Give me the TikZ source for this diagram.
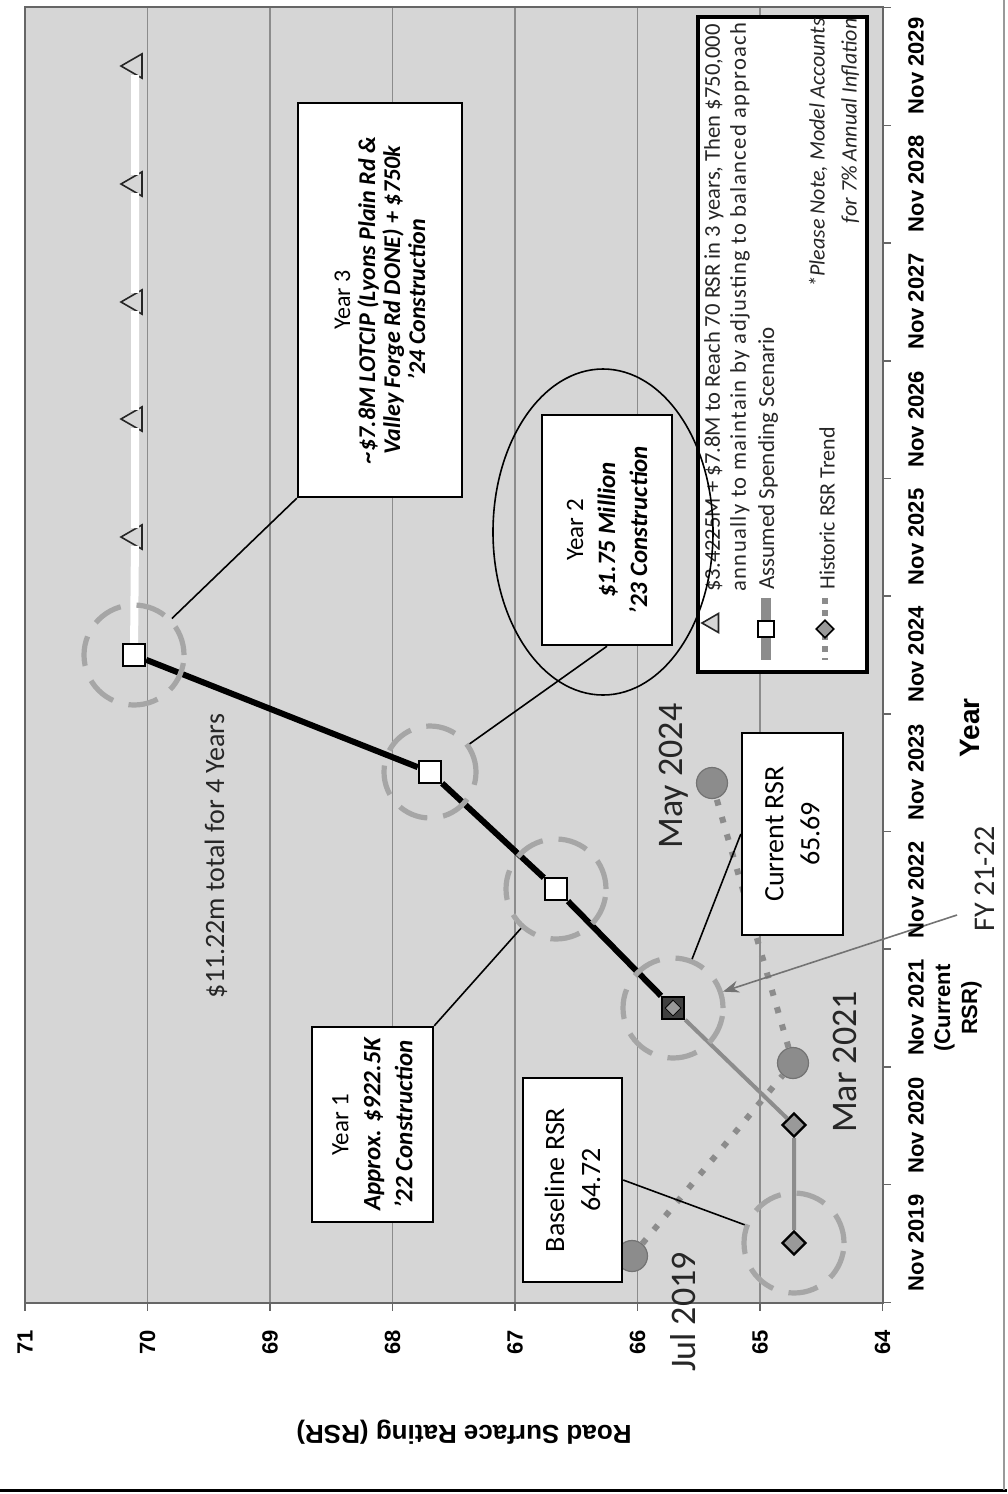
\documentclass[tikz,border=0pt]{standalone}
\usepackage{fontspec}
\setmainfont{Carlito}
\newfontfamily\axisfont{Liberation Sans}
\usetikzlibrary{arrows.meta,shapes.geometric}

\begin{document}
\begin{tikzpicture}[x=0.5pt,y=-0.5pt,
  lbl/.style={rotate=90,inner sep=0pt,text=black!85},
  axislabel/.style={rotate=90,inner sep=0pt,font=\axisfont\bfseries\fontsize{11}{13.5}\selectfont},
  notebox/.style={draw=black,line width=1.2pt,fill=white,rotate=90,align=center,inner sep=0pt},
  gridline/.style={black!45,line width=0.6pt},
  hist/.style={diamond,draw=black,line width=1.2pt,fill=black!40,minimum size=12pt,inner sep=0pt},
  plan/.style={rectangle,draw=black,line width=1.2pt,fill=white,minimum size=11pt,inner sep=0pt},
  goal/.style={regular polygon,regular polygon sides=3,rotate=90,draw=black!85,line width=0.8pt,fill=black!16,minimum size=14pt,inner sep=0pt},
  meas/.style={circle,fill=black!45,draw=black!55,line width=0.6pt,minimum size=15.5pt,inner sep=0pt},
  ring/.style={circle,draw=black!35,line width=2.6pt,dash pattern=on 15pt off 8pt,minimum size=50pt,inner sep=0pt},
  pointer/.style={draw=black,line width=0.8pt},
  fyarrow/.style={draw=black!55,line width=0.8pt,-{Stealth[length=8pt,width=6pt]}}
]
\useasboundingbox (0,0) rectangle (1007,1494);
\fill[white] (0,0) rectangle (1007,1494);

% plot area
\fill[black!16] (25,7) rectangle (883,1303);
\foreach \k in {1,...,6}
  \draw[gridline] ({25+122.5*\k},7) -- ({25+122.5*\k},1303);
\draw[black!60,line width=0.8pt] (25,7) rectangle (883,1303);
\foreach \k in {0,...,7}
  \draw[black!60,line width=0.8pt] ({25+122.5*\k},1303) -- ++(0,8);
\foreach \k in {0,...,11}
  \draw[black!60,line width=0.8pt] (883,{7.6+117.7*\k}) -- ++(8,0);

% markers
\node[hist] (h19) at (794,1243) {};
\node[hist] (h20) at (794,1125) {};
\node[plan,fill=black!75] (a21) at (673,1008) {};
\node[hist,minimum size=8pt,line width=0.4pt] (h21) at (673,1008) {};
\node[plan] (a22) at (556,889) {};
\node[plan] (a23) at (430,772) {};
\node[plan] (a24) at (134,655) {};
\foreach \yr/\y in {25/537,26/419,27/302,28/184,29/66}
  \node[goal] (t\yr) at (135,\y) {};
\node[meas] (jul19) at (632,1256) {};
\node[meas] (mar21) at (793,1063) {};
\node[meas] (may24) at (712,783) {};

% series
\draw[white,line width=4pt] (a24) -- (t25) -- (t26) -- (t27) -- (t28) -- (t29);
\draw[black!45,line width=2pt] (h19) -- (h20) -- (a21);
\draw[black!45,line width=3pt,dash pattern=on 3pt off 6pt] (jul19) -- (mar21) -- (may24);
\draw[black,line width=3pt] (a21) -- (a22) -- (a23) -- (a24);

% highlight rings
\node[ring] (hl19) at (h19) {};
\node[ring] (hl21) at (a21) {};
\node[ring] (hl22) at (a22) {};
\node[ring,minimum size=46pt] (hl23) at (a23) {};
\node[ring] (hl24) at (a24) {};

% call-outs
\node[notebox,minimum width=197pt,minimum height=82pt,font=\bfseries\itshape\fontsize{12}{12.5}\selectfont] (y3) at (380,300)
  {\mdseries\upshape Year 3\\\textasciitilde\$7.8M LOTCIP (Lyons Plain Rd \&\\Valley Forge Rd DONE) + \$750k\\'24 Construction};
\node[notebox,minimum width=115pt,minimum height=65pt,font=\bfseries\itshape\fontsize{12.5}{16}\selectfont] (y2) at (607,530)
  {\mdseries\upshape Year 2\\\$1.75 Million\\'23 Construction};
\node[notebox,minimum width=97.5pt,minimum height=60.5pt,font=\bfseries\itshape\fontsize{12.5}{16}\selectfont] (y1) at (372.5,1124.5)
  {\mdseries\upshape Year 1\\Approx. \$922.5K\\'22 Construction};
\node[notebox,minimum width=102pt,minimum height=49.5pt,font=\fontsize{14}{18}\selectfont] (base) at (572.5,1180)
  {Baseline RSR\\64.72};
\node[notebox,minimum width=101pt,minimum height=50.5pt,font=\fontsize{14}{18}\selectfont] (cur) at (792.5,834)
  {Current RSR\\65.69};

\path[pointer] (y3.north west) edge (hl24)
  (y2.west) edge (hl23)
  (y1.south east) edge (hl22)
  (base.south) edge (hl19)
  (cur.north) edge (hl21);

% legend
\node[draw=black,line width=1.6pt,fill=white,minimum width=84.5pt,minimum height=327.5pt,inner sep=0pt] (legend) at (782.5,344.5) {};
\node[goal,minimum size=11pt] (lgoal) at (713,623) {};
\node[lbl,anchor=west,align=left,font=\fontsize{11.3}{13}\selectfont] (lgoaltxt) at (727,592)
  {\$3.4225M + \$7.8M to Reach 70 RSR in 3 years, Then \$750,000\\\addfontfeature{LetterSpace=6}annually to maintain by adjusting to balanced approach};
\coordinate (lplanA) at (766,598);
\coordinate (lplanB) at (766,660);
\draw[black!45,line width=5pt] (lplanA) -- (lplanB);
\node[plan,line width=0.8pt,minimum size=8pt] (lplan) at (766,629) {};
\node[lbl,anchor=west,font=\fontsize{11.5}{13}\selectfont] (lplantxt) at (768,590) {Assumed Spending Scenario};
\coordinate (lhistA) at (825,598);
\coordinate (lhistB) at (825,660);
\draw[black!45,line width=3pt,dash pattern=on 3pt off 3pt] (lhistA) -- (lhistB);
\node[hist,line width=0.8pt,minimum size=9pt] (lhist) at (825,629) {};
\node[lbl,anchor=west,font=\fontsize{11}{13}\selectfont] (lhisttxt) at (827,590) {Historic RSR Trend};
\node[lbl,anchor=east,align=right,font=\itshape\fontsize{11}{16}\selectfont] (note) at (834,18)
  {*Please Note, Model Accounts\\for 7\% Annual Inflation};

\draw[line width=0.8pt] (603,532) ellipse [x radius=110, y radius=163];

% free labels
\node[lbl,font=\fontsize{14}{16}\selectfont] (total) at (216,856) {\$11.22m total for 4 Years};
\node[lbl,font=\fontsize{18}{20}\selectfont] (lmay) at (674,776) {May 2024};
\node[lbl,font=\fontsize{18}{20}\selectfont] (lmar) at (845,1062) {Mar 2021};
\node[lbl,font=\fontsize{18}{20}\selectfont] (ljul) at (683,1312) {Jul 2019};
\node[lbl,font=\fontsize{15}{18}\selectfont] (fy) at (985,879) {FY 21-22};
\coordinate (fytail) at (957,915);
\draw[fyarrow] (fytail) -- (hl21);

% axes
\foreach \v [count=\k from 0] in {71,70,...,64}
  \node[axislabel] (r\v) at ({25+122.5*\k},1342) {\v};
\foreach \yr [count=\k from 0] in {2019,2020,...,2029}
  \node[axislabel] (n\yr) at (916,{1243-117.7*\k}) {Nov \yr};
\node[axislabel,align=center] (curlbl) at (958,1008) {(Current\\RSR)};
\node[axislabel,font=\axisfont\bfseries\fontsize{14}{16}\selectfont] (ttl) at (970,728) {Year};
\node[rotate=180,inner sep=0pt,font=\axisfont\bfseries\fontsize{13}{15}\selectfont] (vttl) at (464,1432) {Road Surface Rating (RSR)};

% page edges
\draw[line width=1.5pt] (0,1490) -- (1007,1490);
\draw[black!40,line width=0.6pt] (1004,0) -- (1004,1490);
\end{tikzpicture}
\end{document}
